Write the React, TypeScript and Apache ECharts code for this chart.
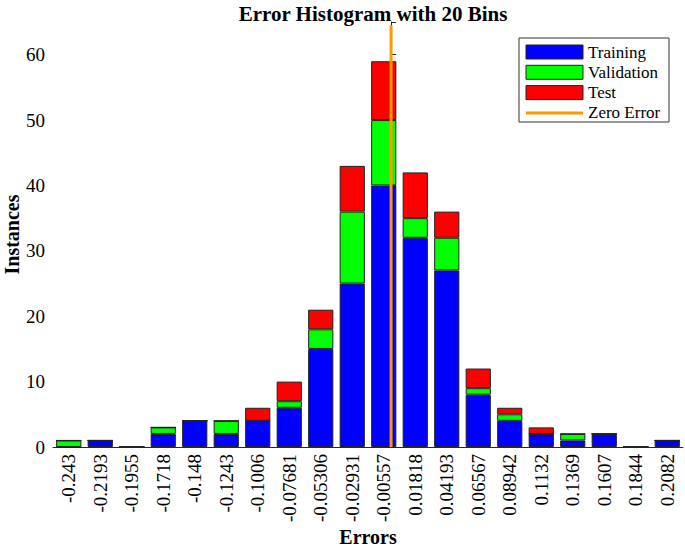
import React, { useEffect, useRef } from "react";
import * as echarts from "echarts";

const binLabels = [
  "-0.243", "-0.2193", "-0.1955", "-0.1718", "-0.148", "-0.1243", "-0.1006",
  "-0.07681", "-0.05306", "-0.02931", "-0.00557", "0.01818", "0.04193",
  "0.06567", "0.08942", "0.1132", "0.1369", "0.1607", "0.1844", "0.2082",
];
const training = [0, 1, 0, 2, 4, 2, 4, 6, 15, 25, 40, 32, 27, 8, 4, 2, 1, 2, 0, 1];
const validation = [1, 0, 0, 1, 0, 2, 0, 1, 3, 11, 10, 3, 5, 1, 1, 0, 1, 0, 0, 0];
const test = [0, 0, 0, 0, 0, 0, 2, 3, 3, 7, 9, 7, 4, 3, 1, 1, 0, 0, 0, 0];
const yTicks = [0, 10, 20, 30, 40, 50, 60];
const zeroError = 0;

const FONT = "'Liberation Serif', 'Times New Roman', serif";

export default function App() {
  const ref = useRef<HTMLDivElement>(null);

  useEffect(() => {
    if (!ref.current) return;
    const chart = echarts.init(ref.current, null, { renderer: "svg" });
    const first = parseFloat(binLabels[0]);
    const last = parseFloat(binLabels[binLabels.length - 1]);
    const step = (last - first) / (binLabels.length - 1);
    const xmin = first - step / 2;
    const xmax = last + step / 2;

    const legendItems = [
      { name: "Training", color: "#0000FF", kind: "rect" },
      { name: "Validation", color: "#00FF00", kind: "rect" },
      { name: "Test", color: "#FF0000", kind: "rect" },
      { name: "Zero Error", color: "#FF9900", kind: "line" },
    ];
    const lx = 519, ly = 38, lw = 150, lh = 84;
    const legendChildren: any[] = [
      {
        type: "rect",
        shape: { x: lx, y: ly, width: lw, height: lh },
        style: { fill: "#fff", stroke: "#333", lineWidth: 1 },
      },
    ];
    legendItems.forEach((it, i) => {
      const cy = ly + 14 + i * 20.3;
      if (it.kind === "rect") {
        legendChildren.push({
          type: "rect",
          shape: { x: lx + 7, y: cy - 7, width: 57, height: 14 },
          style: { fill: it.color, stroke: "#222", lineWidth: 1 },
        });
      } else {
        legendChildren.push({
          type: "line",
          shape: { x1: lx + 7, y1: cy, x2: lx + 64, y2: cy },
          style: { stroke: it.color, lineWidth: 3 },
        });
      }
      legendChildren.push({
        type: "text",
        x: lx + 69,
        y: cy,
        style: {
          text: it.name,
          fill: "#000",
          font: `17px ${FONT}`,
          verticalAlign: "middle",
        },
      });
    });

    const barBase = {
      type: "bar",
      stack: "all",
      barCategoryGap: "20%",
      xAxisIndex: 0,
      yAxisIndex: 0,
    };

    chart.setOption({
      animation: false,
      backgroundColor: "#fff",
      title: {
        text: "Error Histogram with 20 Bins",
        left: 368,
        textAlign: "center",
        top: -2,
        textStyle: { fontFamily: FONT, fontWeight: "bold", fontSize: 21, color: "#000" },
      },
      grid: {
        left: 53,
        right: 2,
        top: 22,
        bottom: 102,
        containLabel: false,
        outerBoundsMode: "none",
      },
      xAxis: [
        {
          type: "category",
          data: binLabels,
          boundaryGap: true,
          name: "Errors",
          nameLocation: "middle",
          nameGap: 80,
          nameMoveOverlap: false,
          nameTextStyle: { fontFamily: FONT, fontWeight: "bold", fontSize: 20, color: "#000" },
          axisLine: { lineStyle: { color: "#262626", width: 1 } },
          axisTick: { inside: true, alignWithLabel: true, length: 5, lineStyle: { color: "#262626" } },
          axisLabel: {
            interval: 0,
            rotate: 90,
            margin: 7,
            fontFamily: FONT,
            fontSize: 19,
            color: "#000",
          },
          splitLine: { show: false },
        },
        {
          type: "value",
          min: xmin,
          max: xmax,
          show: false,
        },
      ],
      yAxis: {
        type: "value",
        min: 0,
        max: 65,
        interval: 10,
        name: "Instances",
        nameLocation: "middle",
        nameRotate: 90,
        nameGap: 31,
        nameMoveOverlap: false,
        nameTextStyle: { fontFamily: FONT, fontWeight: "bold", fontSize: 20, color: "#000" },
        axisLine: { show: true, lineStyle: { color: "#262626", width: 1 } },
        axisTick: { show: true, inside: true, length: 5, lineStyle: { color: "#262626" } },
        axisLabel: {
          margin: 8,
          fontFamily: FONT,
          fontSize: 19,
          color: "#000",
          formatter: (v: number) => (yTicks.includes(v) ? String(v) : ""),
        },
        splitLine: { show: false },
      },
      series: [
        {
          ...barBase,
          name: "Training",
          data: training,
          itemStyle: { color: "#0000FF", borderColor: "#222", borderWidth: 1 },
        },
        {
          ...barBase,
          name: "Validation",
          data: validation,
          itemStyle: { color: "#00FF00", borderColor: "#222", borderWidth: 1 },
        },
        {
          ...barBase,
          name: "Test",
          data: test,
          itemStyle: { color: "#FF0000", borderColor: "#222", borderWidth: 1 },
        },
        {
          type: "line",
          name: "Zero Error",
          xAxisIndex: 1,
          yAxisIndex: 0,
          data: [
            [zeroError, 0],
            [zeroError, 64.5],
          ],
          symbol: "none",
          silent: true,
          lineStyle: { color: "#FF9900", width: 3 },
          z: 10,
        },
      ],
      graphic: [{ type: "group", children: legendChildren, z: 100 }],
    });

    return () => chart.dispose();
  }, []);

  return <div ref={ref} style={{ width: 685, height: 549, position: "absolute", left: 0, top: 0 }} />;
}
